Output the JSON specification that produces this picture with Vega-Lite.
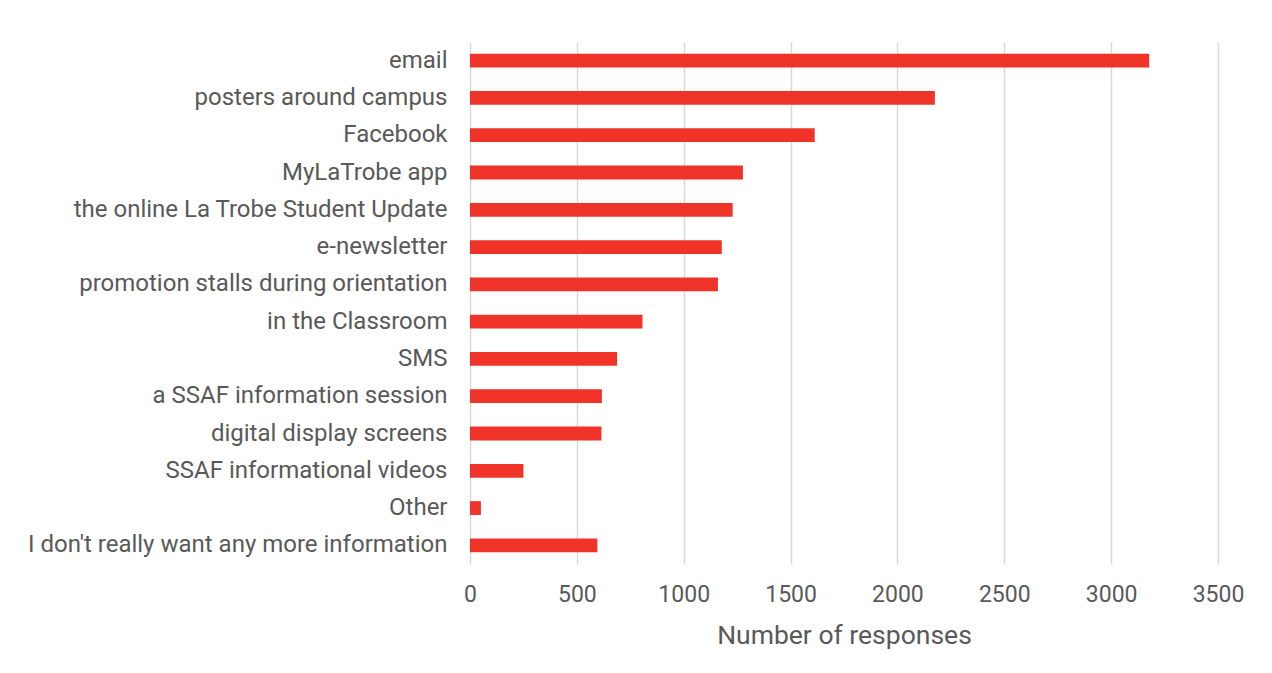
{
  "$schema": "https://vega.github.io/schema/vega-lite/v6.json",
  "width": 748,
  "height": 522,
  "autosize": {"type": "none"},
  "padding": {"left": 470, "top": 42, "right": 54, "bottom": 109},
  "background": "white",
  "config": {
    "view": {"stroke": null},
    "font": "Roboto",
    "axis": {"labelColor": "#595959", "titleColor": "#595959", "labelFont": "Roboto", "titleFont": "Roboto"}
  },
  "data": {
    "values": [
      {"source": "email", "responses": 3178},
      {"source": "posters around campus", "responses": 2175},
      {"source": "Facebook", "responses": 1613},
      {"source": "MyLaTrobe app", "responses": 1277},
      {"source": "the online La Trobe Student Update", "responses": 1229},
      {"source": "e-newsletter", "responses": 1178},
      {"source": "promotion stalls during orientation", "responses": 1160},
      {"source": "in the Classroom", "responses": 807},
      {"source": "SMS", "responses": 688},
      {"source": "a SSAF information session", "responses": 617},
      {"source": "digital display screens", "responses": 615},
      {"source": "SSAF informational videos", "responses": 250},
      {"source": "Other", "responses": 51},
      {"source": "I don't really want any more information", "responses": 596}
    ]
  },
  "mark": {"type": "bar", "color": "#EF3328"},
  "encoding": {
    "y": {
      "field": "source",
      "type": "nominal",
      "sort": null,
      "scale": {"paddingInner": 0.63, "paddingOuter": 0.315},
      "axis": {
        "title": null,
        "domain": false,
        "ticks": false,
        "tickSize": 0,
        "grid": false,
        "labelPadding": 23,
        "labelFontSize": 24,
        "labelLimit": 460
      }
    },
    "x": {
      "field": "responses",
      "type": "quantitative",
      "scale": {"domain": [0, 3500], "nice": false},
      "axis": {
        "title": "Number of responses",
        "values": [0, 500, 1000, 1500, 2000, 2500, 3000, 3500],
        "format": "d",
        "domain": false,
        "ticks": false,
        "tickSize": 0,
        "grid": true,
        "gridColor": "#D9D9D9",
        "gridWidth": 1.5,
        "labelPadding": 19,
        "labelFontSize": 23,
        "labelFlush": false,
        "titleFontSize": 26.5,
        "titleFontWeight": "normal",
        "titlePadding": 16
      }
    }
  }
}
